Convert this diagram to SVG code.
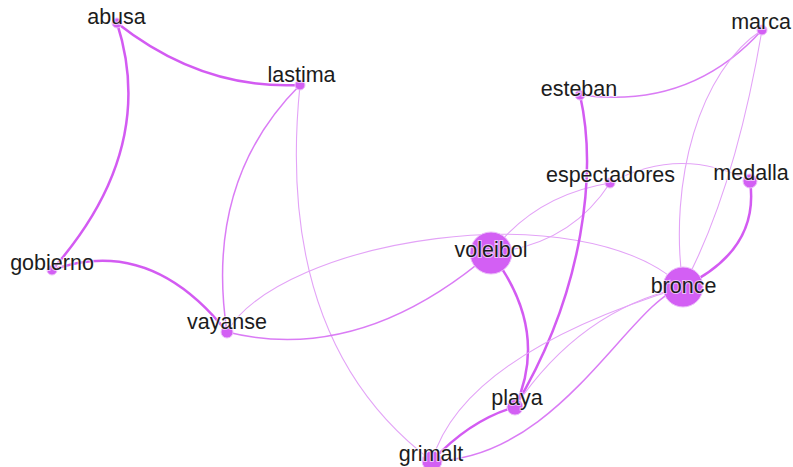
<svg xmlns="http://www.w3.org/2000/svg" width="793" height="467" viewBox="0 0 793 467">
<style>
.e{fill:none;stroke-linecap:round}
.t1{stroke:#d152f1;stroke-width:2.5;stroke-opacity:0.95}
.t2{stroke:#d66ef4;stroke-width:1.5;stroke-opacity:0.9}
.t3{stroke:#e3a3f7;stroke-width:1.1}
.n{fill:#d35ff4;stroke:#ecbdfa;stroke-width:1}
.l{font-family:"Liberation Sans",Arial,sans-serif;font-size:21.5px;fill:#1c1c1c;text-anchor:middle;stroke:#fff;stroke-width:2;stroke-opacity:0.6;paint-order:stroke}
</style>
<rect width="793" height="467" fill="#fff"/>
<g id="edges">
<path class="e t1" d="M117,23 Q202,90 300,85"/>
<path class="e t1" d="M117,23 Q158,150 52,270"/>
<path class="e t1" d="M52,270 Q150,235 227,332"/>
<path class="e t2" d="M300,85 Q204,181 227,332"/>
<path class="e t3" d="M300,85 Q274,342 432,461"/>
<path class="e t3" d="M227,332 C280,240 580,190 683,287"/>
<path class="e t2" d="M227,332 Q360,365 491,253"/>
<path class="e t3" d="M491,253 Q535,195 610,183"/>
<path class="e t3" d="M491,253 Q570,245 610,183"/>
<path class="e t3" d="M610,183 Q680,145 750,181"/>
<path class="e t2" d="M580,95 Q690,110 762,30"/>
<path class="e t1" d="M580,95 C597,170 585,290 515,407"/>
<path class="e t1" d="M491,253 Q550,330 515,407"/>
<path class="e t3" d="M762,30 C700,70 668,180 683,287"/>
<path class="e t3" d="M762,30 Q735,190 683,287"/>
<path class="e t1" d="M750,181 Q760,250 683,287"/>
<path class="e t3" d="M683,287 Q463,355 432,461"/>
<path class="e t3" d="M683,287 Q580,310 515,407"/>
<path class="e t2" d="M683,287 C630,300 560,460 432,461"/>
<path class="e t1" d="M432,461 Q470,420 515,407"/>
</g>
<g id="abusa"><circle class="n" cx="117" cy="23" r="5"/><text class="l" x="116.5" y="24">abusa</text></g>
<g id="lastima"><circle class="n" cx="300" cy="85" r="5"/><text class="l" x="301.5" y="82">lastima</text></g>
<g id="gobierno"><circle class="n" cx="52" cy="270" r="5"/><text class="l" x="52" y="270">gobierno</text></g>
<g id="vayanse"><circle class="n" cx="227" cy="332" r="6"/><text class="l" x="227" y="329">vayanse</text></g>
<g id="voleibol"><circle class="n" cx="491" cy="253" r="21"/><text class="l" x="491" y="257">voleibol</text></g>
<g id="bronce"><circle class="n" cx="683" cy="287" r="20"/><text class="l" x="683.5" y="293">bronce</text></g>
<g id="playa"><circle class="n" cx="515" cy="407" r="8"/><text class="l" x="517" y="405">playa</text></g>
<g id="grimalt"><circle class="n" cx="432" cy="461" r="10"/><text class="l" x="431" y="461">grimalt</text></g>
<g id="esteban"><circle class="n" cx="580" cy="95" r="5"/><text class="l" x="579" y="96">esteban</text></g>
<g id="marca"><circle class="n" cx="762" cy="30" r="5"/><text class="l" x="761" y="29">marca</text></g>
<g id="espectadores"><circle class="n" cx="610" cy="183" r="5"/><text class="l" x="610.5" y="182">espectadores</text></g>
<g id="medalla"><circle class="n" cx="750" cy="181" r="7"/><text class="l" x="751" y="180">medalla</text></g>
</svg>
